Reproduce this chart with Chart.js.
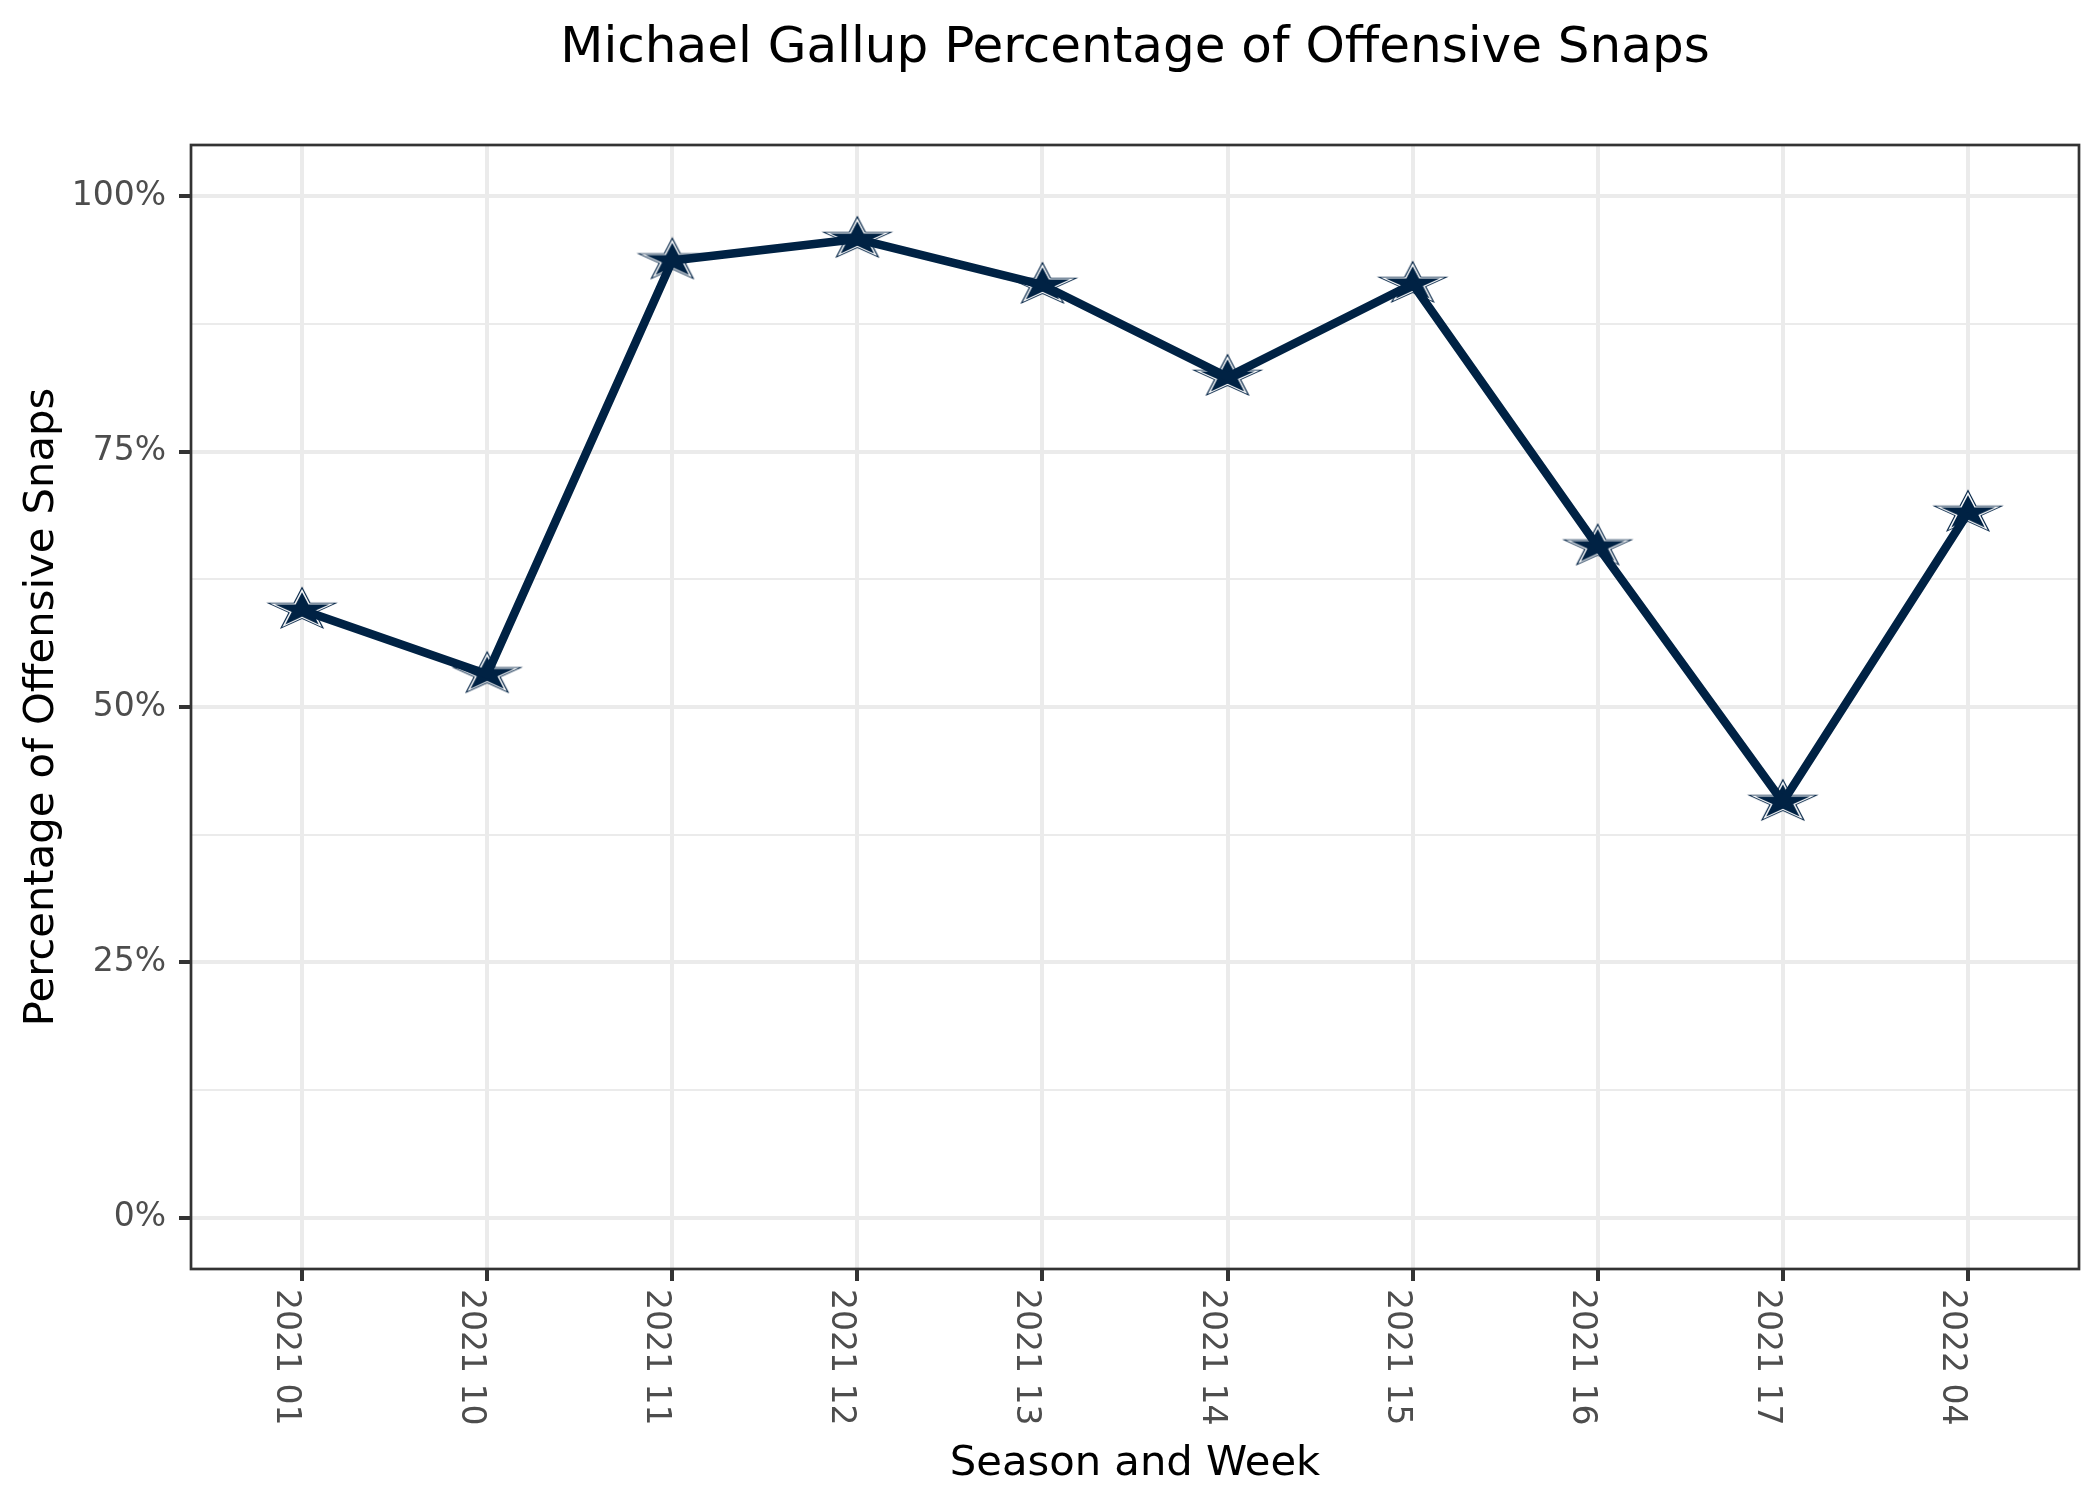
<!DOCTYPE html>
<html>
<head>
<meta charset="utf-8">
<title>Michael Gallup Percentage of Offensive Snaps</title>
<script src="https://cdn.jsdelivr.net/npm/chart.js@4.4.1/dist/chart.umd.min.js"></script>
<style>
  html, body { margin: 0; padding: 0; background: #fff; }
  canvas { display: block; }
</style>
</head>
<body>
<canvas id="snapChart" width="2100" height="1500"></canvas>
<script>
// Data
const weekLabels = ['2021 01', '2021 10', '2021 11', '2021 12', '2021 13', '2021 14', '2021 15', '2021 16', '2021 17', '2022 04'];
const snapPct = [59.5, 53.2, 93.7, 95.8, 91.3, 82.3, 91.4, 65.7, 40.7, 69.0];
const yTickValues = [0, 12.5, 25, 37.5, 50, 62.5, 75, 87.5, 100];
const yMajorTicks = [0, 25, 50, 75, 100];

const chartTitle = 'Michael Gallup Percentage of Offensive Snaps';
const xTitle = 'Season and Week';
const yTitle = 'Percentage of Offensive Snaps';

const navy = '#002244';
const gridGrey = '#EBEBEB';
const darkGrey = '#333333';
const fontFamily = '"DejaVu Sans", sans-serif';

// Filled star marker with a thin white inner outline
const makeStar = () => {
    const w = 76, h = 48;
    const c = document.createElement('canvas');
    c.width = w;
    c.height = h;
    const g = c.getContext('2d');
    const cx = w / 2, cy = h / 2;
    const pathStar = (r) => {
        g.beginPath();
        for (let i = 0; i < 10; i++) {
            const rad = i % 2 === 0 ? r : r * 0.382;
            const a = -Math.PI / 2 + i * Math.PI / 5;
            const px = cx + Math.cos(a) * rad * 1.6;
            const py = cy + Math.sin(a) * rad;
            if (i === 0) g.moveTo(px, py); else g.lineTo(px, py);
        }
        g.closePath();
    };
    pathStar(23.5); g.fillStyle = navy; g.fill();
    pathStar(21.0); g.fillStyle = '#ffffff'; g.fill();
    pathStar(17.8); g.fillStyle = navy; g.fill();
    return c;
};

// Title, axis titles, rotated x labels and panel border
const decorations = {
    id: 'decorations',
    afterDraw(chart) {
        const { ctx, chartArea: a, scales: { x } } = chart;
        ctx.save();
        ctx.strokeStyle = darkGrey;
        ctx.lineWidth = 2.7;
        ctx.strokeRect(a.left, a.top, a.right - a.left, a.bottom - a.top);

        const midX = (a.left + a.right) / 2;
        ctx.fillStyle = '#000000';
        ctx.textAlign = 'center';
        ctx.textBaseline = 'alphabetic';
        ctx.font = '50px ' + fontFamily;
        ctx.fillText(chartTitle, midX, 62);

        ctx.font = '41.7px ' + fontFamily;
        ctx.fillText(xTitle, midX, 1475);

        ctx.save();
        ctx.translate(53, (a.top + a.bottom) / 2);
        ctx.rotate(-Math.PI / 2);
        ctx.fillText(yTitle, 0, 0);
        ctx.restore();

        ctx.font = '33px ' + fontFamily;
        ctx.fillStyle = '#4D4D4D';
        ctx.textAlign = 'left';
        weekLabels.forEach((lab, i) => {
            const px = x.getPixelForValue(i);
            ctx.save();
            ctx.translate(px - 25, a.bottom + 20);
            ctx.rotate(Math.PI / 2);
            ctx.fillText(lab, 0, 0);
            ctx.restore();
        });
        ctx.restore();
    }
};

const points = weekLabels.map((lab, i) => ({ x: i, y: snapPct[i] }));
const starImg = makeStar();

new Chart(document.getElementById('snapChart'), {
    type: 'line',
    data: {
        datasets: [{
            label: 'Snaps line',
            data: points,
            borderColor: navy,
            borderWidth: 8.5,
            borderJoinStyle: 'round',
            pointRadius: 0,
            fill: false,
            tension: 0,
            order: 1
        }, {
            label: 'Snaps stars',
            data: points,
            showLine: false,
            pointStyle: starImg,
            pointRadius: 20,
            pointHoverRadius: 20,
            order: 2
        }]
    },
    options: {
        responsive: false,
        devicePixelRatio: 1,
        animation: false,
        layout: { padding: { left: 0, top: 145, right: 16, bottom: 0 } },
        plugins: {
            legend: { display: false },
            tooltip: { enabled: false },
            title: { display: false }
        },
        scales: {
            x: {
                type: 'linear',
                min: -0.6,
                max: 9.6,
                afterBuildTicks: (scale) => {
                    scale.ticks = weekLabels.map((lab, i) => ({ value: i }));
                },
                afterFit: (scale) => { scale.height = 231; },
                border: { display: false },
                grid: {
                    color: gridGrey,
                    lineWidth: 4,
                    drawTicks: true,
                    tickLength: 12,
                    tickColor: darkGrey,
                    tickWidth: 4
                },
                ticks: { display: false }
            },
            y: {
                type: 'linear',
                min: -5,
                max: 105,
                afterBuildTicks: (scale) => {
                    scale.ticks = yTickValues.map(v => ({ value: v }));
                },
                afterFit: (scale) => { scale.width = 191; },
                border: { display: false },
                grid: {
                    color: gridGrey,
                    lineWidth: (c) => yMajorTicks.includes(c.tick.value) ? 4 : 2,
                    drawTicks: true,
                    tickLength: 12,
                    tickColor: (c) => yMajorTicks.includes(c.tick.value) ? darkGrey : 'rgba(0,0,0,0)',
                    tickWidth: 4
                },
                ticks: {
                    autoSkip: false,
                    padding: 13,
                    color: '#4D4D4D',
                    font: { family: fontFamily, size: 33 },
                    callback: (v) => yMajorTicks.includes(v) ? v + '%' : ''
                }
            }
        }
    },
    plugins: [decorations]
});
</script>
</body>
</html>
